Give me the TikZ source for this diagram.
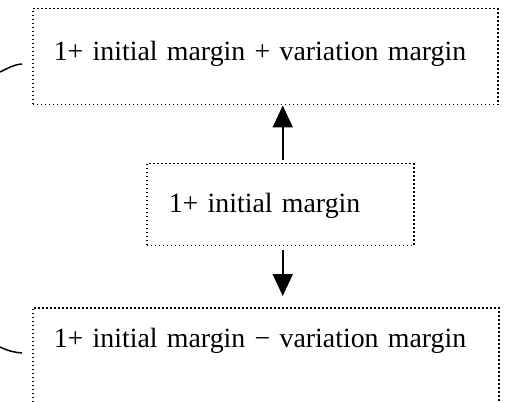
\documentclass[tikz,border=0pt]{standalone}
\usepackage{fontspec}
\setmainfont{Liberation Serif}[WordSpace=0.72]
\usetikzlibrary{arrows.meta}

\begin{document}
\begin{tikzpicture}[x=1pt, y=1pt,
        mbox/.style={draw, line width=1.5pt, dash pattern=on 1.5pt off 2.5pt,
            anchor=north west, inner ysep=0pt},
        flow/.style={line width=2pt, -{Triangle[length=22pt, width=20pt]}},
        hook/.style={line width=1.5pt}]
        \fontsize{27.85pt}{33pt}\selectfont
        \useasboundingbox (0,0) rectangle (506,402);
        % margin levels
        \node[mbox, inner xsep=21pt, text width=423pt, text height=52pt, text depth=44pt]
            (upper) at (32,394) {1+ initial margin + variation margin};
        \node[mbox, inner xsep=22pt, text width=223pt, text height=49pt, text depth=33pt]
            (base) at (146,239) {1+ initial margin};
        \node[mbox, inner xsep=21pt, text width=424pt, text height=40pt, text depth=63pt]
            (lower) at (32,95) {1+ initial margin − variation margin};
        % moves up and down
        \draw[flow, shorten <=3pt] ([xshift=2.5pt]base.north) -- ([xshift=2.5pt]base.north |- upper.south);
        \draw[flow, shorten <=4pt, shorten >=11pt] ([xshift=2.5pt]base.south) -- ([xshift=2.5pt]base.south |- lower.north);
        % left hooks
        \coordinate (uhook) at (0,330);
        \coordinate (lhook) at (0,55);
        \draw[hook] (uhook) to[out=25, in=185] ([shift={(-10pt,-56pt)}]upper.north west);
        \draw[hook] (lhook) to[out=-25, in=175] ([shift={(-10pt,-46pt)}]lower.north west);
    \end{tikzpicture}
\end{document}
